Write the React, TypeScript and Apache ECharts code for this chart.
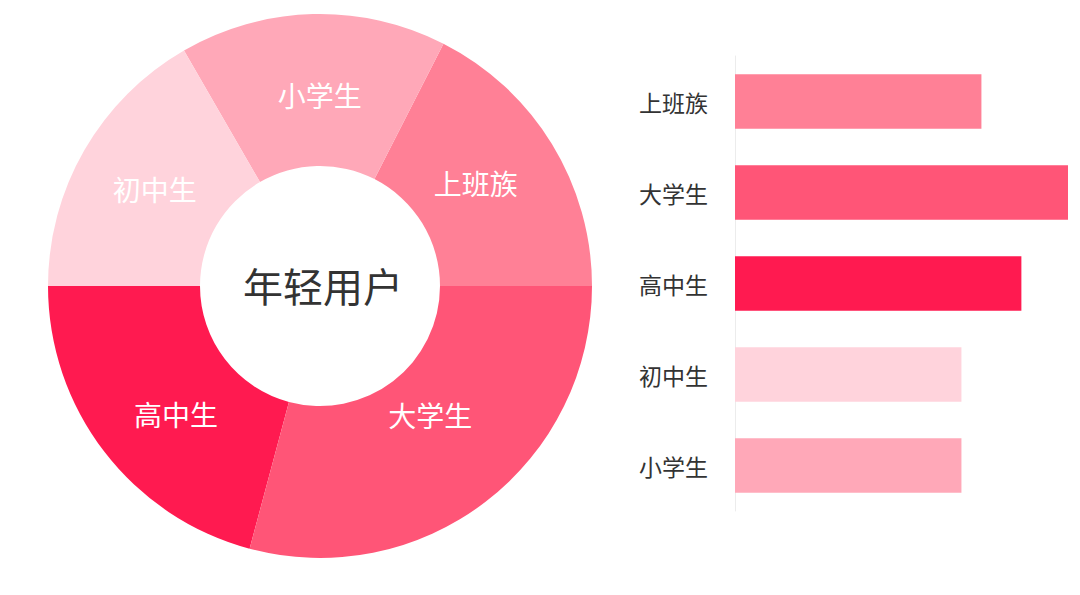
import React, { useRef, useEffect } from "react";
import * as echarts from "echarts";

// pie: share of young users, in degrees (counter-clockwise from 3 o'clock)
const pieNames = ["上班族", "小学生", "初中生", "高中生", "大学生"];
const pieValues = [63, 57, 60, 75, 105];
const pieColors = ["#FF8096", "#FFA8B8", "#FFD3DC", "#FF1A50", "#FF5577"];
// nudges for the ring labels so they sit where the original has them
const pieLabelOffsets = [
  [-14, 1],
  [5, 8],
  [7, 2],
  [14, 7],
  [-11, -29],
];

// bar: top to bottom
const barNames = ["上班族", "大学生", "高中生", "初中生", "小学生"];
const barValues = [74, 100, 86, 68, 68];
const barColors = ["#FF8096", "#FF5577", "#FF1A50", "#FFD3DC", "#FFA8B8"];

const App = function () {
  const chart = useRef(null);
  useEffect(() => {
    if (!chart.current) return;
    let myChart = echarts.init(chart.current as any, null, { renderer: "svg" });
    let option = {
      animation: false,
      title: {
        text: "年轻用户",
        left: 318,
        top: 280,
        textAlign: "center",
        textVerticalAlign: "middle",
        textStyle: {
          color: "#333",
          fontSize: 40,
          fontWeight: "normal",
          fontFamily: "Noto Sans CJK SC",
        },
      },
      grid: {
        left: 735,
        right: 12,
        top: 56,
        bottom: 84,
      },
      xAxis: {
        type: "value",
        min: 0,
        max: 100,
        show: false,
      },
      yAxis: {
        type: "category",
        inverse: true,
        data: barNames,
        axisLine: { show: true, lineStyle: { color: "#ececec" } },
        axisTick: { show: false },
        axisLabel: {
          color: "#333",
          fontSize: 23,
          margin: 27,
          fontFamily: "Noto Sans CJK SC",
        },
      },
      series: [
        {
          type: "pie",
          center: [320, 286],
          radius: [120, 272],
          startAngle: 0,
          clockwise: false,
          silent: true,
          label: {
            position: "inside",
            color: "#fff",
            fontSize: 28,
            fontFamily: "Noto Sans CJK SC",
            formatter: "{b}",
          },
          labelLine: { show: false },
          data: pieNames.map((n, i) => ({
            name: n,
            value: pieValues[i],
            itemStyle: { color: pieColors[i] },
            label: { offset: pieLabelOffsets[i] },
          })),
        },
        {
          type: "bar",
          barCategoryGap: "40%",
          data: barValues.map((v, i) => ({
            value: v,
            itemStyle: { color: barColors[i] },
          })),
        },
      ],
    };
    myChart.setOption(option);
    return () => {
      myChart.dispose();
    };
  }, []);
  return (
    <div
      ref={chart}
      style={{ position: "fixed", left: 0, top: 0, width: 1080, height: 595, background: "#fff" }}
    ></div>
  );
};
export default App;
